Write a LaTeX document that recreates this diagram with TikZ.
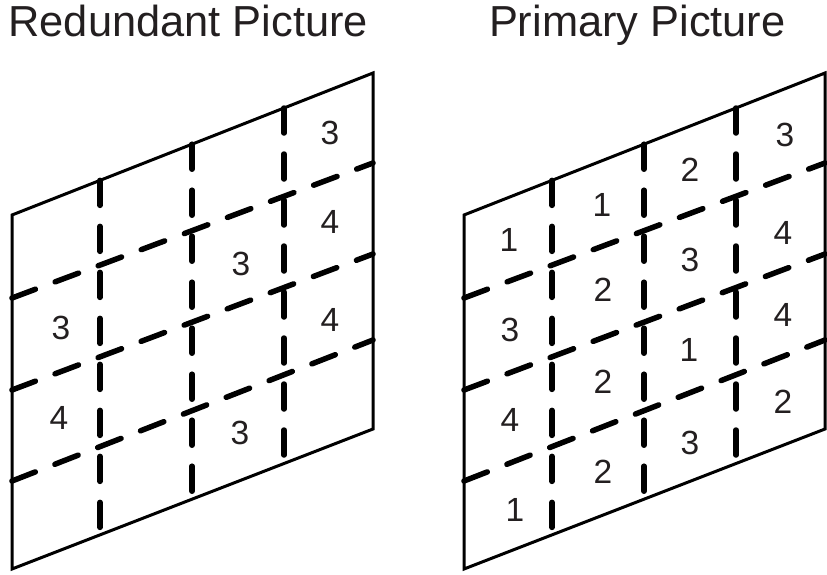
\documentclass[tikz,border=0pt]{standalone}
\usepackage{fontspec}
\setmainfont{Liberation Sans}
\usetikzlibrary{calc}
\definecolor{ink}{HTML}{231F20}
\begin{document}
\begin{tikzpicture}[x=1pt,y=-1pt,
  frame/.style={draw=black,line width=3pt,line join=miter},
  gridline/.style={draw=black,line width=5.5pt,line cap=round,dash pattern=on 25pt off 21pt},
  title/.style={anchor=base west,inner sep=0pt,text=ink,font=\fontsize{43.4}{50}\selectfont},
  num/.style={inner sep=0pt,text=ink,font=\fontsize{33.5}{38}\selectfont}]
\useasboundingbox (0,0) rectangle (827,575);

% headings
\node[title] (t-red) at (8.3,37) {Redundant Picture};
\node[title] (t-pri) at (488.8,37) {Primary Picture};

% two skewed 4x4 grids, the second shifted to the right
\foreach \dx/\p in {0/L,452/R} {
  \begin{scope}[xshift=\dx pt]
    \coordinate (\p-tl) at (12,215);
    \coordinate (\p-tr) at (373,73);
    \coordinate (\p-br) at (373,429);
    \coordinate (\p-bl) at (12,569);
    % row separators
    \foreach \i/\yl/\yr in {1/298/163,2/390/254,3/481/340} {
      \coordinate (\p-h\i a) at (12,\yl);
      \coordinate (\p-h\i b) at (373,\yr);
      \draw[gridline] (\p-h\i a) -- (\p-h\i b);
    }
    % column separators
    \foreach \i/\c in {1/100,2/192,3/284} {
      \coordinate (\p-v\i a) at ($(\p-tl)!{(\c-12)/361}!(\p-tr)$);
      \coordinate (\p-v\i b) at ($(\p-bl)!{(\c-12)/361}!(\p-br)$);
      \draw[gridline] (\p-v\i a) -- (\p-v\i b);
    }
    \draw[frame] (\p-tl) -- (\p-tr) -- (\p-br) -- (\p-bl) -- cycle;
  \end{scope}
}

% cell numbers, left grid
\foreach \x/\y/\t [count=\k] in {330/133/3,330/222/4,241/264/3,330/320/4,
    61/328/3,59/418/4,240/433/3}
  \node[num] (nL-\k) at (\x,\y) {\t};

% cell numbers, right grid
\foreach \x/\y/\t [count=\k] in {785/135/3,690/170/2,602/205/1,509/240/1,
    783/233/4,690/260/3,603/290/2,510/330/3,
    783/315/4,689/350/1,603/382/2,510/420/4,
    783/402/2,690/443/3,603/472/2,515/510/1}
  \node[num] (nR-\k) at (\x,\y) {\t};
\end{tikzpicture}
\end{document}
